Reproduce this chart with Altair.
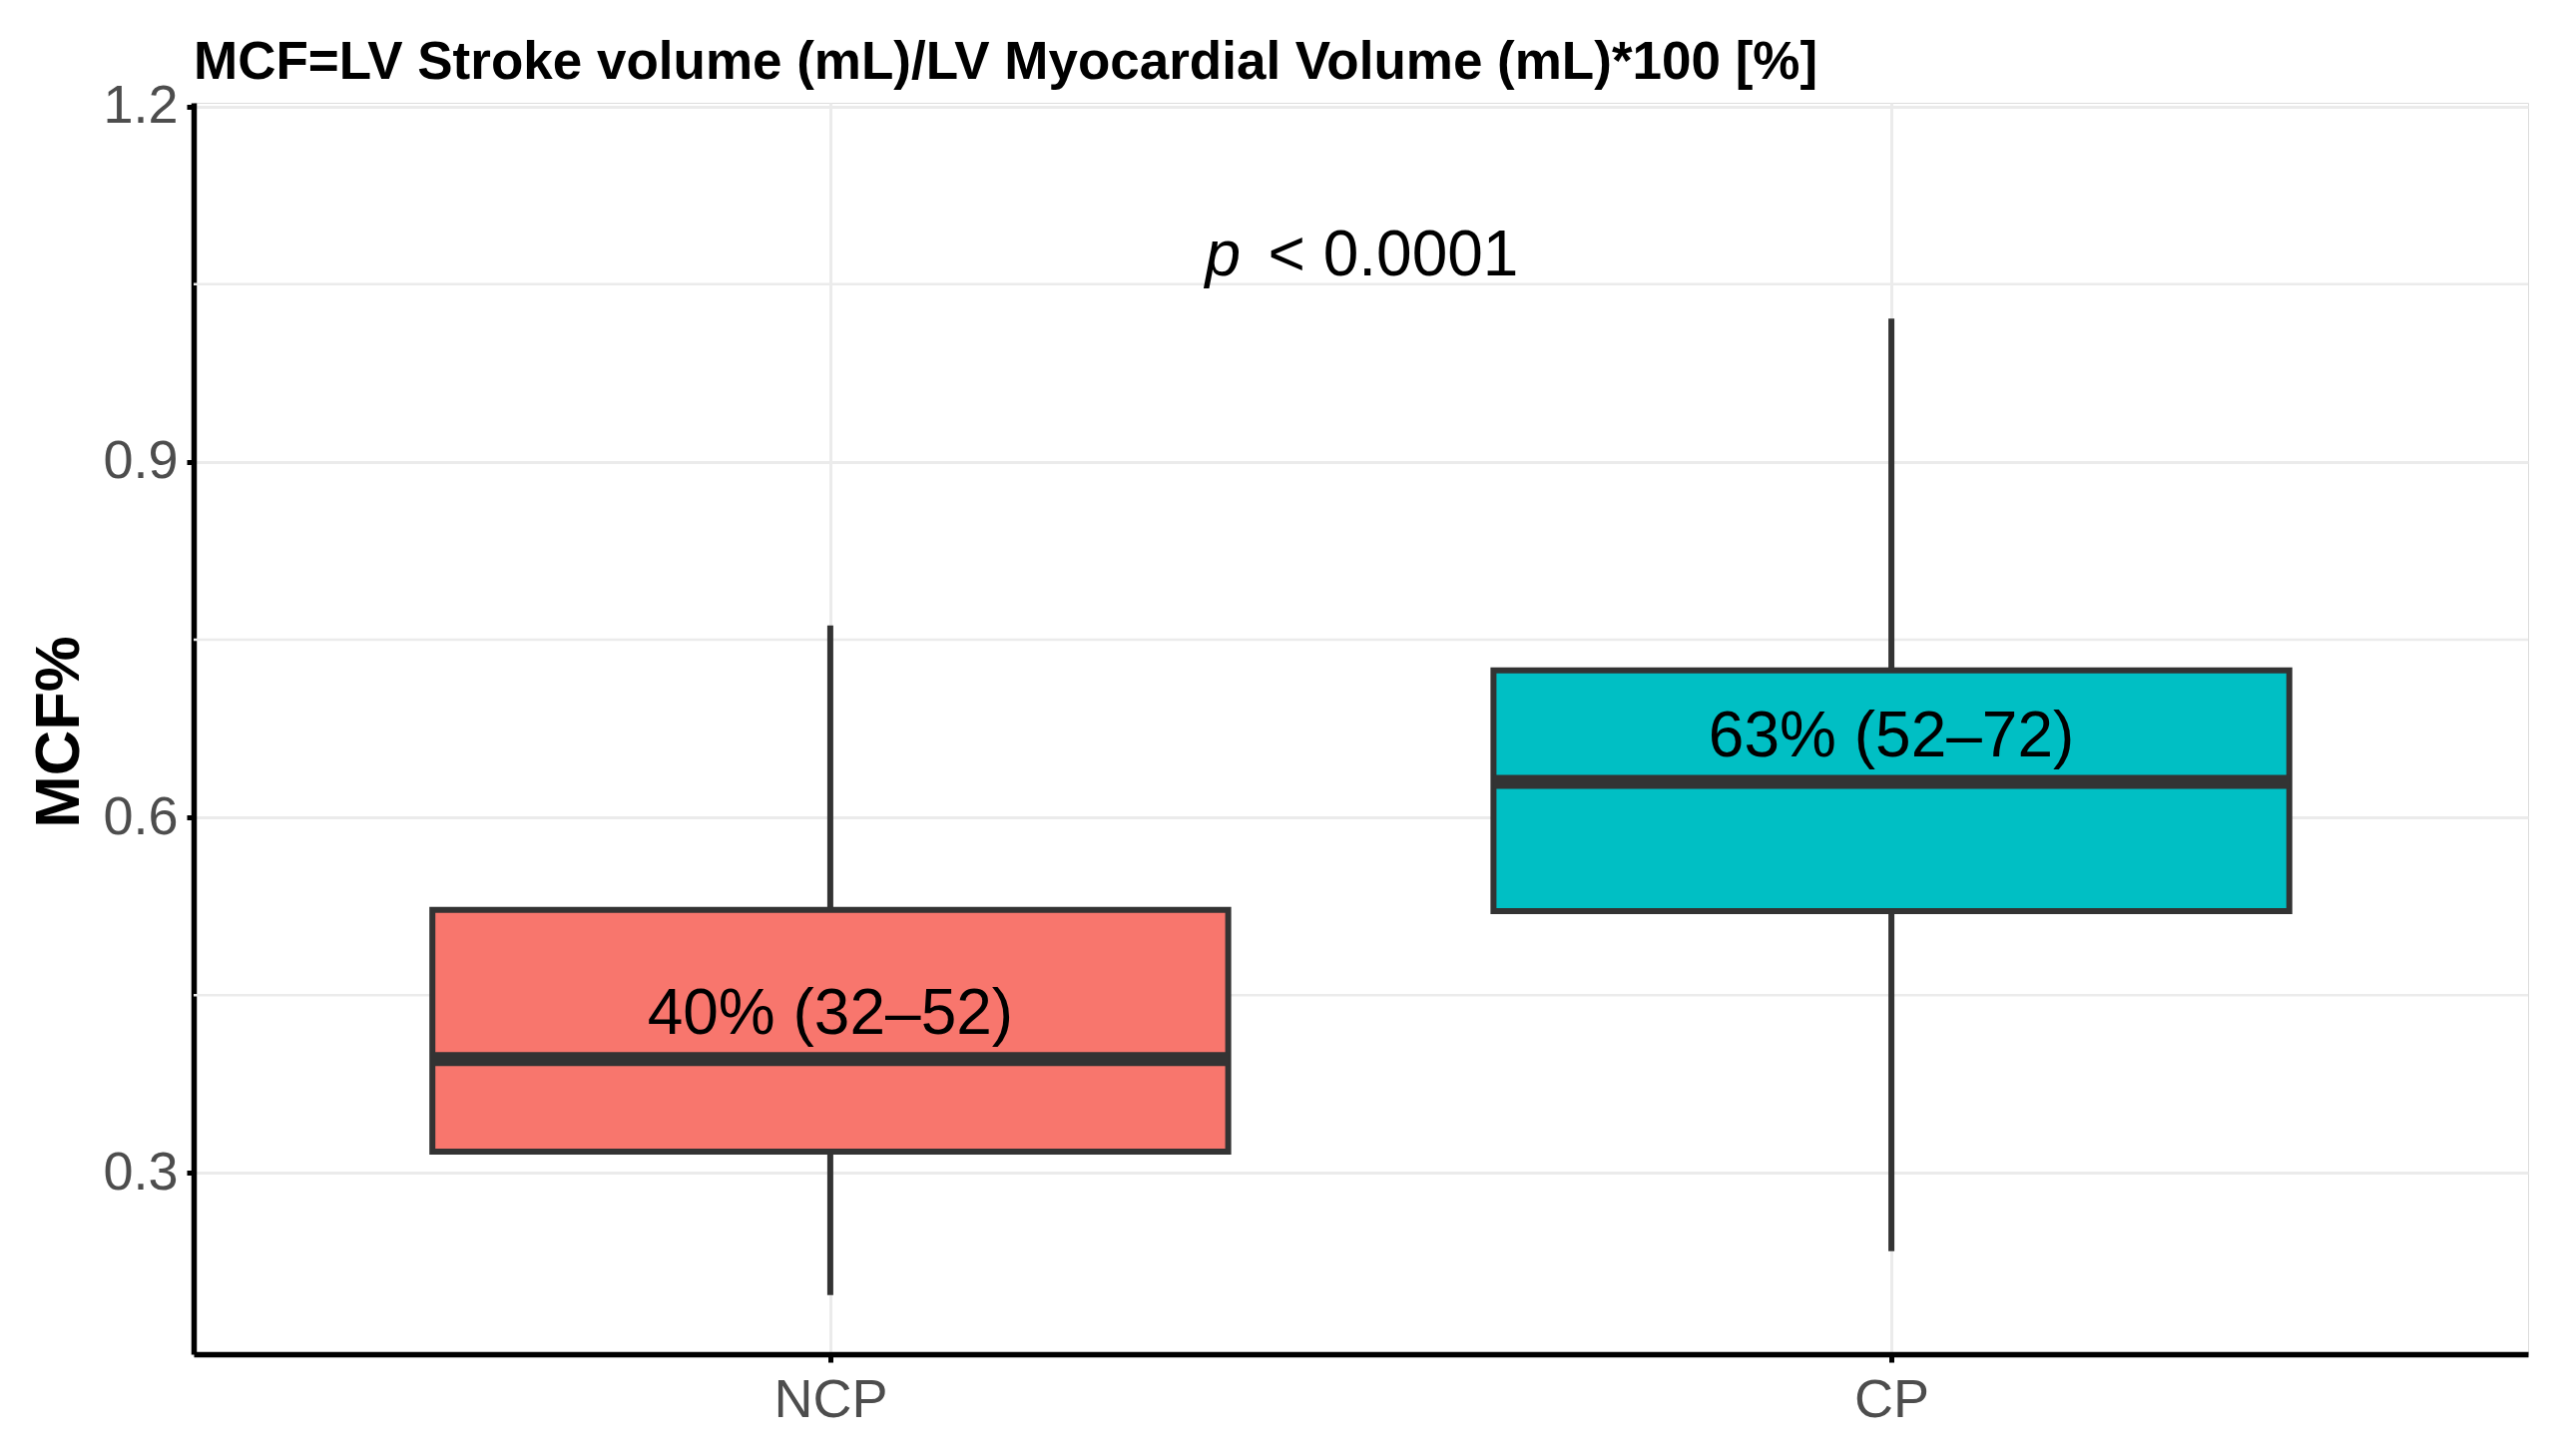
import altair as alt
import pandas as pd

# ---- data ----
groups = ["NCP", "CP"]
positions = [1, 2]
whisker_low = [0.197, 0.234]
q1 = [0.318, 0.521]
median = [0.396, 0.630]
q3 = [0.522, 0.724]
whisker_high = [0.762, 1.021]
labels = ["40% (32–52)", "63% (52–72)"]
colors = ["#F8766D", "#00BFC4"]

y_major = [0.3, 0.6, 0.9, 1.2]
y_minor = [0.45, 0.75, 1.05]
y_domain = [0.147, 1.203]
x_domain = [0.4, 2.6]
box_half_width = 0.375

p_x = [1.5]
p_y = [1.057]
p_italic = ["p"]
p_rest = ["< 0.0001"]

title_text = "MCF=LV Stroke volume (mL)/LV Myocardial Volume (mL)*100 [%]"
y_title = "MCF%"

FONT = "Liberation Sans"
GRID = "#EBEBEB"
DARK = "#333333"

df = pd.DataFrame({
    "group": groups,
    "pos": positions,
    "wlo": whisker_low,
    "q1": q1,
    "median": median,
    "q3": q3,
    "whi": whisker_high,
    "label": labels,
})

x_scale = alt.Scale(domain=x_domain, nice=False, zero=False)
y_scale = alt.Scale(domain=y_domain, nice=False, zero=False)

label_list = "[" + ",".join("'" + g + "'" for g in groups) + "]"

x_axis = alt.Axis(
    values=positions,
    labelExpr=label_list + "[datum.value - 1]",
    grid=True, gridColor=GRID, gridWidth=3,
    domainColor="black", domainWidth=5.5,
    tickColor="black", tickWidth=5, tickSize=8,
    labelFont=FONT, labelFontSize=54, labelColor="#4D4D4D",
    labelPadding=11, labelFlush=False,
    title=None,
)
y_axis = alt.Axis(
    values=y_major, format=".1f",
    grid=True, gridColor=GRID, gridWidth=3,
    domainColor="black", domainWidth=5.5,
    tickColor="black", tickWidth=5, tickSize=7,
    labelFont=FONT, labelFontSize=54, labelColor="#4D4D4D",
    labelPadding=9, labelFlush=False, labelOverlap=False,
    title=y_title, titleFont=FONT, titleFontSize=63, titleFontWeight="bold",
    titleColor="black", titleX=-135, titleY=630, titleAngle=270,
    titleAlign="center", titleBaseline="middle",
)

base = alt.Chart(df)

minor = alt.Chart(pd.DataFrame({"y": y_minor})).mark_rule(
    color=GRID, strokeWidth=2.5
).encode(y=alt.Y("y:Q", scale=y_scale, axis=y_axis))

whiskers = base.mark_rule(color=DARK, strokeWidth=6).encode(
    x=alt.X("pos:Q", scale=x_scale, axis=x_axis),
    y=alt.Y("wlo:Q", scale=y_scale, axis=y_axis),
    y2="whi:Q",
)

boxes = base.transform_calculate(
    lo=f"datum.pos - {box_half_width}", hi=f"datum.pos + {box_half_width}"
).mark_bar(stroke=DARK, strokeWidth=6).encode(
    x=alt.X("lo:Q", scale=x_scale, axis=x_axis),
    x2="hi:Q",
    y=alt.Y("q1:Q", scale=y_scale, axis=y_axis),
    y2="q3:Q",
    color=alt.Color("group:N", scale=alt.Scale(domain=groups, range=colors), legend=None),
)

medians = base.transform_calculate(
    lo=f"datum.pos - {box_half_width}", hi=f"datum.pos + {box_half_width}"
).mark_rule(color=DARK, strokeWidth=14).encode(
    x=alt.X("lo:Q", scale=x_scale, axis=x_axis),
    x2="hi:Q",
    y=alt.Y("median:Q", scale=y_scale, axis=y_axis),
)

texts = base.mark_text(
    font=FONT, fontSize=64, color="black", baseline="alphabetic", dy=-25
).encode(
    x=alt.X("pos:Q", scale=x_scale, axis=x_axis),
    y=alt.Y("median:Q", scale=y_scale, axis=y_axis),
    text="label:N",
)

pdf = pd.DataFrame({"x": p_x, "y": p_y, "p": p_italic, "rest": p_rest})
p1 = alt.Chart(pdf).mark_text(
    font=FONT, fontSize=64, fontStyle="italic", color="black",
    baseline="alphabetic", align="left", dx=-156
).encode(
    x=alt.X("x:Q", scale=x_scale, axis=x_axis),
    y=alt.Y("y:Q", scale=y_scale, axis=y_axis),
    text="p:N",
)
p2 = alt.Chart(pdf).mark_text(
    font=FONT, fontSize=64, color="black",
    baseline="alphabetic", align="left", dx=-93
).encode(
    x=alt.X("x:Q", scale=x_scale, axis=x_axis),
    y=alt.Y("y:Q", scale=y_scale, axis=y_axis),
    text="rest:N",
)

chart = alt.layer(minor, whiskers, boxes, medians, texts, p1, p2).properties(
    width=2339,
    height=1254,
    autosize=alt.AutoSizeParams(type="none"),
    padding={"left": 186, "top": 95, "right": 27, "bottom": 90},
    title=alt.TitleParams(
        text=title_text, anchor="start", frame="group",
        font=FONT, fontSize=53, fontWeight="bold", color="black",
        baseline="alphabetic", offset=0, dy=52,
    ),
).configure_view(strokeWidth=0).configure(background="white")

chart.save("out.html", embed_options={"renderer": "svg", "actions": False})
